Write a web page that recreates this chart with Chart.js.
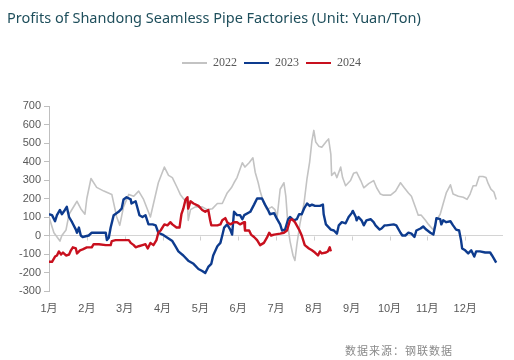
<!DOCTYPE html>
<html lang="zh-CN">
<head>
    <meta charset="UTF-8">
    <title>Profits of Shandong Seamless Pipe Factories</title>
    <script src="https://cdn.jsdelivr.net/npm/chart.js"></script>
    <style>
        body {
            margin: 0;
            background: #fff;
        }
        .wrap {
            position: relative;
            width: 514px;
            height: 360px;
        }
        .title {
            position: absolute;
            left: 7px;
            top: 8px;
            font-family: 'Noto Sans', sans-serif;
            font-size: 14.5px;
            line-height: 18px;
            color: #1f4f5c;
            white-space: nowrap;
        }
        .source {
            position: absolute;
            left: 345px;
            top: 343px;
            font-family: 'Noto Sans CJK SC', sans-serif;
            font-size: 11px;
            line-height: 14px;
            letter-spacing: 1px;
            color: #8a8a8a;
        }
    </style>
</head>
<body>
    <div class="wrap">
        <canvas id="profitChart"></canvas>
        <div class="title">Profits of Shandong Seamless Pipe Factories (Unit: Yuan/Ton)</div>
        <div class="source">数据来源：钢联数据</div>
    </div>

    <script>
        // month labels (x = 0 is the start of January)
        const months = ['1月', '2月', '3月', '4月', '5月', '6月', '7月', '8月', '9月', '10月', '11月', '12月'];
        const seriesNames = ['2022', '2023', '2024'];

        // 2022
        const x2022 = [0.00, 0.13, 0.29, 0.34, 0.45, 0.53, 0.74, 0.84, 0.95, 1.00, 1.11, 1.26, 1.45, 1.66, 1.71, 1.79, 1.87, 1.97, 2.11, 2.24,
            2.37, 2.50, 2.68, 2.89, 3.05, 3.16, 3.26, 3.39, 3.47, 3.55, 3.66, 3.68, 3.74, 3.87, 4.05, 4.18, 4.32, 4.45, 4.58, 4.71,
            4.82, 4.89, 4.97, 5.11, 5.18, 5.29, 5.39, 5.45, 5.53, 5.58, 5.68, 5.76, 5.89, 5.97, 6.03, 6.11, 6.21, 6.26, 6.32, 6.37,
            6.45, 6.50, 6.55, 6.63, 6.74, 6.82, 6.89, 6.95, 7.00, 7.05, 7.13, 7.21, 7.34, 7.39, 7.45, 7.47, 7.55, 7.61, 7.71, 7.76,
            7.84, 7.97, 8.05, 8.13, 8.24, 8.32, 8.45, 8.58, 8.66, 8.76, 8.84, 9.03, 9.16, 9.29, 9.39, 9.50, 9.58, 9.68, 9.76, 9.84,
            9.95, 10.03, 10.16, 10.24, 10.34, 10.42, 10.50, 10.61, 10.68, 10.82, 10.95, 11.05, 11.13, 11.21, 11.29, 11.37, 11.47, 11.55, 11.61, 11.68,
            11.76, 11.82];
        const v2022 = [100, 15, -30, 0, 30, 115, 185, 145, 115, 200, 308, 260, 240, 222, 175, 100, 55, 155, 222, 212,
            240, 195, 100, 285, 370, 325, 313, 258, 222, 200, 173, 82, 140, 155, 155, 140, 145, 173, 173, 230,
            258, 285, 313, 393, 370, 393, 420, 342, 285, 240, 173, 140, 155, 140, 100, 250, 285, 212, 43, -30,
            -108, -135, -52, 60, 173, 308, 398, 512, 568, 505, 483, 477, 511, 522, 438, 325, 342, 313, 370, 313,
            269, 297, 336, 342, 297, 258, 280, 297, 258, 224, 218, 218, 240, 285, 258, 230, 212, 155, 110, 110,
            82, 60, 30, 82, 115, 173, 230, 274, 224, 212, 207, 195, 224, 269, 269, 319, 319, 313, 280, 251,
            235, 195];

        // 2023
        const x2023 = [0.00, 0.08, 0.16, 0.21, 0.29, 0.34, 0.42, 0.47, 0.53, 0.61, 0.71, 0.74, 0.79, 0.84, 0.89, 1.05, 1.13, 1.50, 1.53, 1.58,
            1.63, 1.71, 1.84, 1.92, 1.97, 2.05, 2.16, 2.18, 2.29, 2.39, 2.47, 2.55, 2.63, 2.74, 2.82, 2.89, 3.00, 3.13, 3.26, 3.34,
            3.42, 3.55, 3.68, 3.82, 3.95, 4.05, 4.13, 4.21, 4.29, 4.34, 4.45, 4.53, 4.58, 4.63, 4.71, 4.79, 4.84, 4.89, 4.97, 5.05,
            5.11, 5.16, 5.32, 5.42, 5.50, 5.63, 5.71, 5.79, 5.84, 5.95, 6.03, 6.11, 6.16, 6.24, 6.32, 6.37, 6.47, 6.55, 6.61, 6.68,
            6.74, 6.82, 6.89, 6.95, 7.03, 7.16, 7.24, 7.26, 7.32, 7.45, 7.53, 7.61, 7.66, 7.74, 7.84, 7.92, 8.00, 8.03, 8.11, 8.13,
            8.18, 8.26, 8.32, 8.39, 8.50, 8.58, 8.63, 8.74, 8.79, 8.87, 8.92, 9.11, 9.18, 9.29, 9.34, 9.42, 9.50, 9.58, 9.66, 9.71,
            9.82, 9.89, 9.97, 10.08, 10.16, 10.21, 10.24, 10.34, 10.37, 10.42, 10.50, 10.61, 10.68, 10.76, 10.84, 10.89, 10.92, 11.00, 11.08, 11.16,
            11.24, 11.29, 11.39, 11.53, 11.66, 11.71, 11.76, 11.82];
        const v2023 = [115, 110, 77, 110, 138, 115, 138, 155, 100, 72, 32, 15, 43, 0, -8, 0, 15, 15, -25, -12,
            43, 110, 128, 145, 195, 207, 195, 173, 185, 110, 100, 110, 60, 60, 55, 15, 5, -12, -30, -58,
            -86, -108, -136, -153, -181, -192, -203, -170, -153, -108, -58, -40, 0, 43, 60, 32, 5, 128, 110, 110,
            88, 110, 128, 167, 200, 200, 167, 138, 115, 121, 88, 60, 27, 32, 88, 100, 82, 88, 115, 115,
            145, 173, 160, 167, 160, 160, 167, 115, 60, 32, 27, 10, 55, 72, 66, 100, 121, 133, 100, 82,
            100, 82, 55, 82, 88, 72, 55, 32, 38, 55, 55, 60, 55, 15, 0, 0, 15, 10, -8, 27,
            38, 49, 32, 15, 5, 55, 94, 88, 60, 82, 72, 77, 55, 32, 27, -25, -70, -80, -97, -80,
            -114, -86, -86, -92, -92, -108, -125, -147];

        // 2024
        const x2024 = [0.00, 0.08, 0.16, 0.21, 0.26, 0.32, 0.37, 0.45, 0.53, 0.58, 0.63, 0.71, 0.74, 0.82, 0.89, 1.00, 1.13, 1.18, 1.32, 1.50,
            1.63, 1.66, 1.76, 2.11, 2.16, 2.24, 2.29, 2.37, 2.47, 2.55, 2.61, 2.68, 2.76, 2.84, 2.89, 2.95, 3.05, 3.13, 3.21, 3.26,
            3.37, 3.45, 3.50, 3.55, 3.61, 3.66, 3.68, 3.74, 3.82, 3.95, 4.05, 4.13, 4.21, 4.26, 4.29, 4.45, 4.53, 4.58, 4.66, 4.71,
            4.79, 4.89, 4.97, 5.05, 5.16, 5.18, 5.29, 5.34, 5.42, 5.50, 5.58, 5.68, 5.76, 5.82, 5.87, 5.95, 6.11, 6.21, 6.29, 6.37,
            6.42, 6.50, 6.61, 6.68, 6.76, 6.87, 6.95, 7.03, 7.11, 7.16, 7.21, 7.32, 7.37, 7.42, 7.45];
        const v2024 = [-142, -142, -114, -108, -86, -103, -92, -108, -103, -80, -64, -70, -97, -80, -75, -64, -64, -47, -47, -52,
            -52, -30, -25, -25, -40, -52, -64, -58, -52, -47, -70, -40, -52, -25, 15, 27, 60, 55, 72, 60,
            43, 43, 115, 145, 195, 207, 145, 185, 173, 160, 138, 128, 138, 82, 55, 55, 60, 82, 94, 72,
            60, 72, 72, 60, 72, 27, 27, 5, -8, -25, -52, -40, -12, 15, 0, 5, 10, 15, 27, 82,
            88, 72, 32, 0, -52, -70, -80, -92, -108, -86, -97, -92, -86, -64, -86];

        const toPoints = (xs, vs) => xs.map((x, i) => ({ x: x, y: vs[i] }));

        const tickFont = { family: "'Liberation Sans', 'Noto Sans CJK SC', sans-serif", size: 11 };

        // 月份小刻度画在0轴上
        const zeroTicks = {
            id: 'zeroTicks',
            beforeDatasetsDraw(chart) {
                const { ctx, scales: { x, y } } = chart;
                const y0 = Math.round(y.getPixelForValue(0)) + 0.5;
                ctx.save();
                ctx.strokeStyle = '#cfcfcf';
                ctx.lineWidth = 1;
                months.forEach((m, i) => {
                    const px = Math.round(x.getPixelForValue(i)) + 0.5;
                    ctx.beginPath();
                    ctx.moveTo(px, y0);
                    ctx.lineTo(px, y0 + 4);
                    ctx.stroke();
                });
                ctx.restore();
            }
        };

        // 图例与绘图区之间留空, 并略向右移
        const legendSpace = {
            id: 'legendSpace',
            beforeInit(chart) {
                const fit = chart.legend.fit;
                chart.legend.fit = function () {
                    fit.call(this);
                    this.height += 27;
                };
            },
            afterLayout(chart) {
                chart.legend.left += 19;
                chart.legend.right += 19;
            }
        };

        const config = {
            type: 'line',
            data: {
                datasets: [
                    { label: seriesNames[0], data: toPoints(x2022, v2022), borderColor: '#c3c3c3', backgroundColor: '#c3c3c3', borderWidth: 1.6, order: 3 },
                    { label: seriesNames[1], data: toPoints(x2023, v2023), borderColor: '#0d3b8e', backgroundColor: '#0d3b8e', borderWidth: 2.4, order: 2 },
                    { label: seriesNames[2], data: toPoints(x2024, v2024), borderColor: '#c8101e', backgroundColor: '#c8101e', borderWidth: 2.4, order: 1 }
                ]
            },
            options: {
                responsive: true,
                maintainAspectRatio: false,
                animation: false,
                elements: {
                    point: { radius: 0 },
                    line: { tension: 0, borderJoinStyle: 'round' }
                },
                layout: { padding: { top: 50, right: 9, left: 0, bottom: 0 } },
                scales: {
                    x: {
                        type: 'linear',
                        min: 0,
                        max: 12,
                        grid: { display: false, drawTicks: false },
                        border: { display: false },
                        ticks: {
                            stepSize: 1,
                            autoSkip: false,
                            maxRotation: 0,
                            padding: 11,
                            color: '#595959',
                            font: tickFont,
                            callback: (v) => months[v] || ''
                        },
                        afterFit: (scale) => { scale.height = 69; }
                    },
                    y: {
                        min: -300,
                        max: 700,
                        grid: {
                            color: (c) => c.tick && c.tick.value === 0 ? '#d4d4d4' : 'rgba(0,0,0,0)',
                            tickColor: '#bfbfbf',
                            tickLength: 5
                        },
                        border: { display: true, color: '#bfbfbf', width: 1 },
                        ticks: {
                            stepSize: 100,
                            padding: 3,
                            color: '#595959',
                            font: tickFont
                        },
                        afterFit: (scale) => { scale.width = 49; }
                    }
                },
                plugins: {
                    title: { display: false },
                    tooltip: { enabled: false },
                    legend: {
                        position: 'top',
                        labels: {
                            boxWidth: 25,
                            boxHeight: 2,
                            padding: 7,
                            color: '#595959',
                            font: { family: "'Liberation Serif', serif", size: 12 },
                            sort: (a, b) => a.datasetIndex - b.datasetIndex,
                            generateLabels: (chart) => Chart.defaults.plugins.legend.labels.generateLabels(chart).map((l) => {
                                l.lineWidth = 0;
                                l.fillStyle = l.strokeStyle;
                                return l;
                            })
                        }
                    }
                }
            },
            plugins: [zeroTicks, legendSpace]
        };

        new Chart(document.getElementById('profitChart'), config);
    </script>
</body>
</html>
